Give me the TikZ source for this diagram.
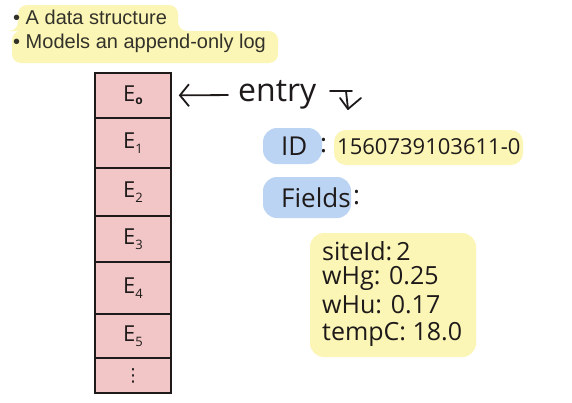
\documentclass[tikz,border=0pt]{standalone}
\usepackage{fontspec}
\setmainfont{Liberation Sans}
\newfontfamily\hand{Open Sans}
\newfontfamily\symfont{DejaVu Sans}
\usetikzlibrary{arrows.meta}
\definecolor{hlyellow}{RGB}{252,246,182}
\definecolor{hlblue}{RGB}{188,212,243}
\definecolor{cellpink}{RGB}{242,198,198}
\definecolor{ink}{RGB}{30,26,26}
\definecolor{bulletink}{RGB}{50,50,42}
\begin{document}
\begin{tikzpicture}[x=1pt,y=-1pt,
  cellbox/.style={draw=ink, line width=1.6pt, fill=cellpink, minimum width=76pt,
    inner sep=0pt, font=\hand\fontsize{22}{24}\selectfont, text=ink},
  bullettext/.style={anchor=west, inner sep=0pt, text=bulletink, font=\fontsize{20}{22}\selectfont},
  handtext/.style={anchor=west, inner sep=0pt, text=ink},
  handline/.style={draw=ink, line width=1.8pt, line cap=round, line join=round}]
\useasboundingbox (0,0) rectangle (572,402);
\fill[white] (0,0) rectangle (572,402);
% top highlight
\fill[hlyellow, rounded corners=9pt] (18,5) -- (178,5) -- (178,31) -- (278,31) -- (278,63) -- (12,63) -- (12,31) -- (18,31) -- cycle;
\node[bullettext] (b1) at (13,17) {\textbullet\ A data structure};
\node[bullettext] (b2) at (13,43) {\textbullet\ Models an append-only log};
% column of entries
\node[cellbox, minimum height=45.3pt] (e0) at (133,95.35) {E\raisebox{-3pt}{\fontsize{12}{12}\selectfont\bfseries o}};
\node[cellbox, minimum height=50pt] (e1) at (133,143) {E\raisebox{-5pt}{\fontsize{13}{13}\selectfont 1}};
\node[cellbox, minimum height=48pt] (e2) at (133,192) {E\raisebox{-5pt}{\fontsize{13}{13}\selectfont 2}};
\node[cellbox, minimum height=46pt] (e3) at (133,239) {E\raisebox{-5pt}{\fontsize{13}{13}\selectfont 3}};
\node[cellbox, minimum height=52pt] (e4) at (133,288) {E\raisebox{-5pt}{\fontsize{13}{13}\selectfont 4}};
\node[cellbox, minimum height=44pt] (e5) at (133,336) {E\raisebox{-5pt}{\fontsize{13}{13}\selectfont 5}};
\node[cellbox, minimum height=35pt, font=\symfont\fontsize{18}{20}\selectfont] (e6) at (133,375.5) {⋮};
% entry label and arrow
\node[handtext, font=\hand\fontsize{32}{34}\selectfont] (entry) at (238,95) {entry};
\draw[handline, -{Straight Barb[length=9pt,width=22pt,line width=1.8pt]}, shorten <=10pt, shorten >=7pt] (entry.west) -- (e0.east);
\draw[handline] (330,91) -- (352,91);
\draw[handline] (346,91) -- (348,109);
\draw[handline] (340,98) -- (348,109) -- (361,98);
% ID row
\fill[hlblue, rounded corners=14pt] (263,128) rectangle (322,164);
\fill[hlyellow, rounded corners=12pt] (334,130) rectangle (523,165);
\node[handtext, font=\hand\fontsize{26}{30}\selectfont] (id) at (281,146) {ID};
\node[handtext, font=\hand\fontsize{26}{30}\selectfont] (idcolon) at (320,146) {:};
\node[handtext, font=\hand\fontsize{22}{26}\selectfont] (idval) at (337,147) {1560739103611-0};
% Fields row
\fill[hlblue, rounded corners=14pt] (263,177) rectangle (351,218);
\node[handtext, font=\hand\fontsize{26}{30}\selectfont] (fields) at (281,198) {Fields};
\node[handtext, font=\hand\fontsize{26}{30}\selectfont] (fcolon) at (353,198) {:};
% field values
\fill[hlyellow, rounded corners=14pt] (310,233) rectangle (476,357);
\node[handtext, font=\hand\fontsize{25}{28}\selectfont] (f1) at (322,251) {siteId:\,2};
\node[handtext, font=\hand\fontsize{25}{28}\selectfont] (f2) at (322,278) {wHg: 0.25};
\node[handtext, font=\hand\fontsize{25}{28}\selectfont] (f3) at (322,305) {wHu: 0.17};
\node[handtext, font=\hand\fontsize{25}{28}\selectfont] (f4) at (322,334) {tempC: 18.0};
\end{tikzpicture}
\end{document}
